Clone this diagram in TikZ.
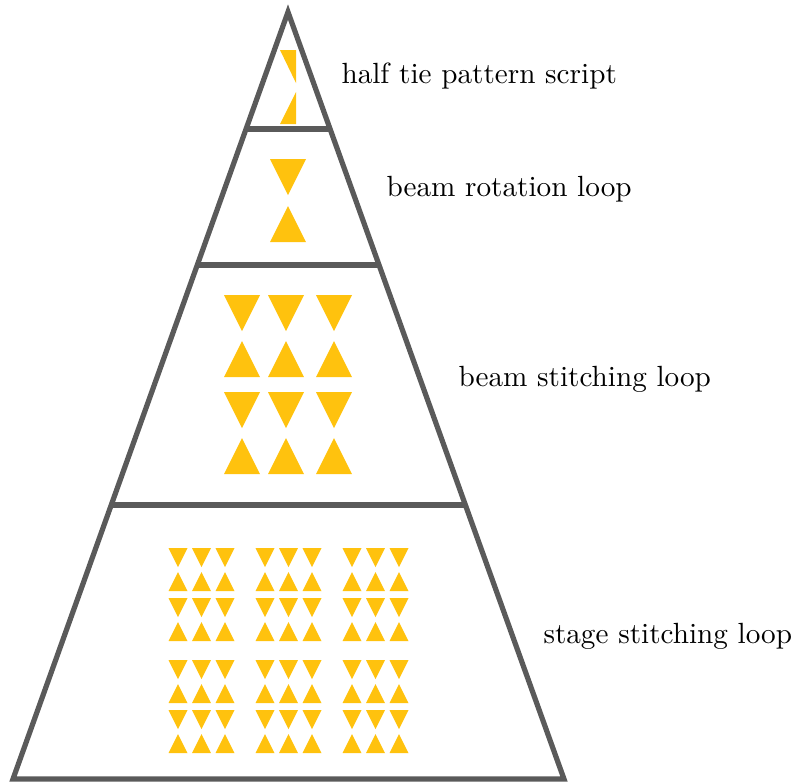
\documentclass[tikz,border=0pt]{standalone}
\usetikzlibrary{calc}
\definecolor{frame}{HTML}{5A5A5A}
\definecolor{amber}{HTML}{FFC20E}
\tikzset{
  frameline/.style={draw=frame, line width=1.95pt, line join=miter},
  tri/.style={fill=amber},
  label/.style={anchor=base west, inner sep=0pt, font=\fontsize{10.95}{13.6}\selectfont},
}
% down-pointing triangle: centre x, top y, width, height
\newcommand{\downtri}[4]{\fill[tri] (#1-#3/2,#2) -- (#1+#3/2,#2) -- (#1,#2+#4) -- cycle;}
% up-pointing triangle: centre x, top y, width, height
\newcommand{\uptri}[4]{\fill[tri] (#1,#2) -- (#1+#3/2,#2+#4) -- (#1-#3/2,#2+#4) -- cycle;}
\begin{document}
\begin{tikzpicture}[x=0.375pt, y=-0.375pt]
  \useasboundingbox (0,0) rectangle (794,783);

  % outer pyramid
  \coordinate (apex) at (288,12);
  \coordinate (bl) at (13,779);
  \coordinate (br) at (564,779);
  \draw[frameline] (apex) -- (bl) -- (br) -- cycle;

  % level dividers
  \foreach \yy/\nm in {129/a, 265/b, 505/c} {
    \coordinate (L\nm) at ($(apex)!{(\yy-12)/767}!(bl)$);
    \coordinate (R\nm) at ($(apex)!{(\yy-12)/767}!(br)$);
    \draw[frameline] (L\nm) -- (R\nm);
  }

  % level 1: half tie
  \fill[tri] (280,50) -- (296,50) -- (296,83) -- cycle;
  \fill[tri] (296,92) -- (296,124) -- (280,124) -- cycle;

  % level 2: one tie
  \downtri{288}{159}{36}{36}
  \uptri{288}{206}{36}{36}

  % level 3: 3 x 2 ties
  \foreach \cx in {242,286,334} {
    \downtri{\cx}{295}{36}{36}
    \uptri{\cx}{341}{36}{36}
    \downtri{\cx}{392}{36}{36}
    \uptri{\cx}{438}{36}{36}
  }

  % level 4: 3 x 2 blocks of small ties
  \foreach \gx in {0,87,174} {
    \foreach \gy in {0,112} {
      \foreach \cx in {178,201.5,225} {
        \downtri{\cx+\gx}{548+\gy}{19}{19}
        \uptri{\cx+\gx}{572+\gy}{19}{19}
        \downtri{\cx+\gx}{598+\gy}{19}{19}
        \uptri{\cx+\gx}{622+\gy}{19}{19}
      }
    }
  }

  % labels
  \node[label] (t1) at (341,83) {half tie pattern script};
  \node[label] (t2) at (386,196) {beam rotation loop};
  \node[label] (t3) at (458,386) {beam stitching loop};
  \node[label] (t4) at (543,643) {stage stitching loop};
\end{tikzpicture}
\end{document}
